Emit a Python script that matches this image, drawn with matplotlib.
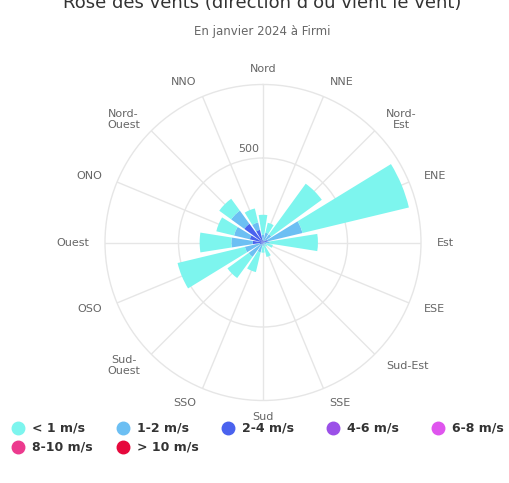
import numpy as np
import matplotlib
matplotlib.use('Agg')
import matplotlib.pyplot as plt
from matplotlib.lines import Line2D

# direction labels, clockwise from north
directions = ['Nord', 'NNE', 'Nord-\nEst', 'ENE', 'Est', 'ESE', 'Sud-Est', 'SSE',
              'Sud', 'SSO', 'Sud-\nOuest', 'OSO', 'Ouest', 'ONO', 'Nord-\nOuest', 'NNO']

# values per speed class (hours)
speed_lt1 = [117, 60, 370, 648, 285, 40, 15, 68, 40, 120, 155, 410, 188, 108, 87, 85]
speed_1_2 = [32, 50, 45, 210, 30, 15, 10, 15, 15, 50, 90, 90, 127, 96, 96, 45]
speed_2_4 = [15, 10, 15, 30, 10, 5, 5, 5, 5, 10, 15, 20, 60, 80, 137, 77]
speed_4_6 = [0] * 16
speed_6_8 = [0] * 16
speed_8_10 = [0] * 16
speed_gt10 = [0] * 16

series_names = ['< 1 m/s', '1-2 m/s', '2-4 m/s', '4-6 m/s', '6-8 m/s', '8-10 m/s', '> 10 m/s']
series_colors = ['#7df5ee', '#6cbff3', '#4a62ee', '#9b50e8', '#df55ee', '#ec3a8e', '#e6083c']

rmax = 935

fig = plt.figure(figsize=(5.10, 4.83), dpi=100, facecolor='w')
W, H = 510.0, 483.0
cx, cy, R = 263.0, 242.5, 158.0
ax = fig.add_axes([(cx - R) / W, (H - cy - R) / H, 2 * R / W, 2 * R / H], polar=True)
ax.set_theta_zero_location('N')
ax.set_theta_direction(-1)

theta = np.deg2rad(np.arange(16) * 22.5)
width = np.deg2rad(22.5) * 0.8

# stacked from the centre outwards: fastest class first
stack = [speed_gt10, speed_8_10, speed_6_8, speed_4_6, speed_2_4, speed_1_2, speed_lt1]
stack_colors = series_colors[::-1]
bottom = np.zeros(16)
for vals, col in zip(stack, stack_colors):
    vals = np.array(vals, dtype=float)
    ax.bar(theta, vals, width=width, bottom=bottom, color=col, edgecolor='none', zorder=3)
    bottom += vals

ax.set_ylim(0, rmax)
ax.set_thetagrids(np.arange(16) * 22.5, labels=[''] * 16)
ax.set_rgrids([500], labels=[''])
ax.grid(True, color='#e6e6e6', linewidth=1, zorder=0)
ax.spines['polar'].set_color('#e6e6e6')
ax.spines['polar'].set_linewidth(1)
ax.tick_params(length=0)

# direction labels outside the circle
rl = rmax * 174.0 / R
for t, lab in zip(theta, directions):
    s = np.sin(t)
    ha = 'center' if abs(s) < 0.01 else ('left' if s > 0 else 'right')
    ax.text(t, rl, lab, ha=ha, va='center', multialignment='center',
            fontsize=8, color='#666666', clip_on=False)

ax.annotate('500', xy=(0, 500), xytext=(-14, 9), textcoords='offset pixels',
            ha='center', va='center', fontsize=8, color='#666666')

# title is partly cut off at the top edge in the original
fig.text(0.515, 1 - 7.5 / H, "Rose des vents (direction d'où vient le vent)",
         ha='center', va='baseline', fontsize=13, color='#333333')
fig.text(0.515, 1 - 31 / H, 'En janvier 2024 à Firmi',
         ha='center', va='center', fontsize=8.5, color='#666666')

# legend
legend_pos = [(18, 428), (123, 428), (228, 428), (333, 428), (438, 428), (18, 447), (123, 447)]
for (x, y), name, col in zip(legend_pos, series_names, series_colors):
    fig.add_artist(Line2D([x / W], [1 - y / H], marker='o', markersize=9,
                          color=col, linestyle='none', transform=fig.transFigure))
    fig.text((x + 14) / W, 1 - y / H, name, ha='left', va='center',
             fontsize=9, fontweight='bold', color='#333333')

plt.savefig('out.png', dpi=100)
